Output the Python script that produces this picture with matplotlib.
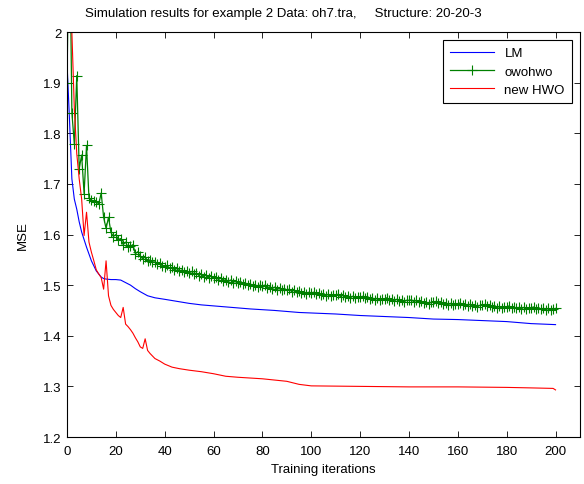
import numpy as np
import matplotlib
matplotlib.use("Agg")
import matplotlib.pyplot as plt

plt.rcParams['font.family'] = ['Liberation Sans', 'DejaVu Sans']

# LM (read at selected iterations)
lm_x = [0, 1, 2, 3, 4, 5, 6, 7, 8, 10, 12, 14, 15, 16, 18, 20, 22, 24, 26, 28, 30, 33, 36, 40,
        45, 50, 55, 60, 65, 70, 75, 85, 95, 110, 120, 130, 140, 150, 160, 170, 180, 190, 200]
lm_y = [1.94, 1.83, 1.71, 1.67, 1.65, 1.625, 1.605, 1.59, 1.575, 1.548, 1.528, 1.516, 1.513,
        1.512, 1.511, 1.511, 1.510, 1.505, 1.500, 1.493, 1.487, 1.479, 1.475, 1.472,
        1.468, 1.464, 1.461, 1.459, 1.457, 1.455, 1.453, 1.450, 1.446, 1.443, 1.440,
        1.438, 1.436, 1.433, 1.432, 1.430, 1.428, 1.424, 1.422]

# owohwo, one value per iteration 0..200
owo_y = [1.900, 2.250, 1.841, 1.779, 1.914, 1.730, 1.757, 1.681, 1.776, 1.672,
         1.668, 1.666, 1.665, 1.660, 1.682, 1.634, 1.612, 1.634, 1.604, 1.596,
         1.600, 1.590, 1.592, 1.580, 1.585, 1.575, 1.577, 1.580, 1.562, 1.566,
         1.557, 1.552, 1.556, 1.548, 1.550, 1.545, 1.546, 1.541, 1.543, 1.538,
         1.536, 1.539, 1.533, 1.535, 1.530, 1.533, 1.528, 1.530, 1.526, 1.528,
         1.524, 1.527, 1.522, 1.524, 1.519, 1.522, 1.517, 1.520, 1.515, 1.518,
         1.514, 1.516, 1.511, 1.514, 1.509, 1.511, 1.507, 1.510, 1.505, 1.508,
         1.505, 1.507, 1.502, 1.505, 1.500, 1.503, 1.498, 1.501, 1.497, 1.500,
         1.498, 1.500, 1.495, 1.497, 1.493, 1.496, 1.491, 1.494, 1.490, 1.492,
         1.490, 1.492, 1.487, 1.490, 1.486, 1.488, 1.484, 1.487, 1.483, 1.486,
         1.484, 1.486, 1.482, 1.485, 1.481, 1.483, 1.479, 1.482, 1.478, 1.481,
         1.480, 1.482, 1.477, 1.480, 1.476, 1.479, 1.475, 1.478, 1.474, 1.477,
         1.476, 1.478, 1.474, 1.476, 1.472, 1.475, 1.471, 1.474, 1.470, 1.473,
         1.473, 1.475, 1.470, 1.473, 1.469, 1.472, 1.468, 1.471, 1.467, 1.470,
         1.470, 1.471, 1.467, 1.470, 1.466, 1.468, 1.465, 1.467, 1.463, 1.466,
         1.466, 1.468, 1.464, 1.466, 1.462, 1.465, 1.461, 1.464, 1.460, 1.463,
         1.463, 1.465, 1.461, 1.463, 1.459, 1.462, 1.458, 1.461, 1.457, 1.460,
         1.460, 1.462, 1.458, 1.460, 1.456, 1.459, 1.455, 1.458, 1.455, 1.457,
         1.457, 1.459, 1.455, 1.457, 1.454, 1.456, 1.453, 1.456, 1.452, 1.455,
         1.455, 1.457, 1.453, 1.455, 1.452, 1.454, 1.451, 1.454, 1.451, 1.453,
         1.454]
owo_x = np.arange(len(owo_y))

# new HWO
hwo_x = [0, 1, 2, 3, 4, 5, 6, 7, 8, 9, 10, 11, 12, 13, 14, 15, 16, 17, 18, 19, 20, 21, 22, 23,
         24, 25, 26, 27, 28, 29, 30, 31, 32, 33, 34, 35, 36, 38, 40, 43, 46, 50, 55, 60, 65,
         70, 80, 90, 95, 100, 120, 140, 160, 180, 190, 199, 200]
hwo_y = [2.45, 2.20, 2.00, 1.85, 1.76, 1.71, 1.67, 1.598, 1.644, 1.585, 1.565, 1.548, 1.530,
         1.522, 1.515, 1.492, 1.548, 1.479, 1.460, 1.452, 1.446, 1.440, 1.436, 1.456, 1.423,
         1.418, 1.412, 1.405, 1.396, 1.388, 1.378, 1.375, 1.394, 1.371, 1.365, 1.360, 1.355,
         1.350, 1.344, 1.338, 1.335, 1.332, 1.329, 1.325, 1.320, 1.318, 1.315, 1.310, 1.304,
         1.301, 1.300, 1.299, 1.299, 1.298, 1.297, 1.296, 1.293]

fig = plt.figure(figsize=(5.84, 4.85), dpi=100)
ax = fig.add_axes([0.1147, 0.0969, 0.8784, 0.835])

ax.plot(lm_x, lm_y, color=(0, 0, 1), lw=0.8, label='LM')
ax.plot(owo_x, owo_y, color=(0, 0.5, 0), lw=0.9, marker='+', ms=7, mew=0.8, label='owohwo')
ax.plot(hwo_x, hwo_y, color=(1, 0, 0), lw=0.8, label='new HWO')

ax.set_xlim(0, 210)
ax.set_ylim(1.2, 2.0)
ax.set_xticks(np.arange(0, 201, 20))
ax.set_yticks([1.2, 1.3, 1.4, 1.5, 1.6, 1.7, 1.8, 1.9, 2.0])
ax.set_yticklabels(['1.2', '1.3', '1.4', '1.5', '1.6', '1.7', '1.8', '1.9', '2'])
ax.tick_params(axis='x', pad=6)
ax.tick_params(direction='in', top=True, right=True, length=4, width=0.6, labelsize=9.5)
ax.tick_params(axis='y', pad=4)
for s in ax.spines.values():
    s.set_linewidth(0.8)

ax.set_xlabel('Training iterations', fontsize=9.5, labelpad=4)
ax.set_ylabel('MSE', fontsize=9.5, labelpad=10)
fig.text(0.485, 0.972, 'Simulation results for example 2 Data: oh7.tra,     Structure: 20-20-3',
         ha='center', va='center', fontsize=9.5)

leg = ax.legend(loc='upper right', fontsize=9.5, fancybox=False, framealpha=1,
                edgecolor='black', borderaxespad=0.6, handlelength=3.3, borderpad=0.55,
                labelspacing=0.45)
leg.get_frame().set_linewidth(0.8)

fig.savefig('out.png', dpi=100)
